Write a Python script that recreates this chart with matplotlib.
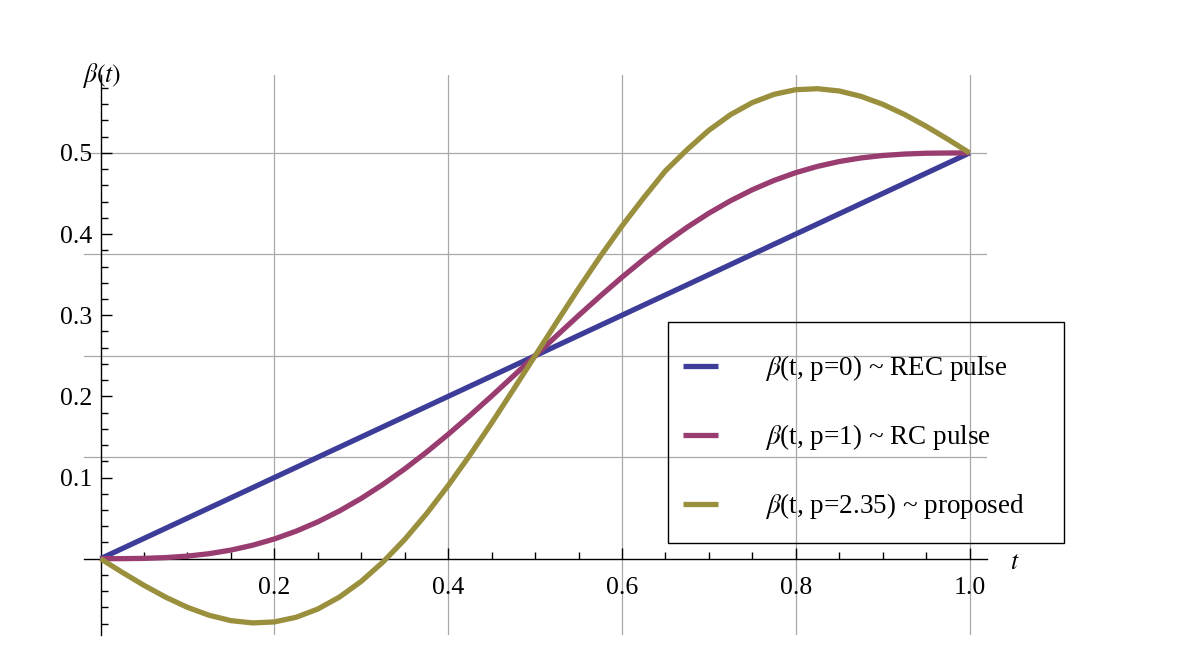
import numpy as np
import matplotlib
matplotlib.use("Agg")
import matplotlib.pyplot as plt
from matplotlib.patches import Rectangle

## data, t step 0.025
t = [0.000, 0.025, 0.050, 0.075, 0.100, 0.125, 0.150, 0.175, 0.200, 0.225,
     0.250, 0.275, 0.300, 0.325, 0.350, 0.375, 0.400, 0.425, 0.450, 0.475,
     0.500, 0.525, 0.550, 0.575, 0.600, 0.625, 0.650, 0.675, 0.700, 0.725,
     0.750, 0.775, 0.800, 0.825, 0.850, 0.875, 0.900, 0.925, 0.950, 0.975,
     1.000]

rec = [0.0000, 0.0125, 0.0250, 0.0375, 0.0500, 0.0625, 0.0750, 0.0875, 0.1000, 0.1125,
       0.1250, 0.1375, 0.1500, 0.1625, 0.1750, 0.1875, 0.2000, 0.2125, 0.2250, 0.2375,
       0.2500, 0.2625, 0.2750, 0.2875, 0.3000, 0.3125, 0.3250, 0.3375, 0.3500, 0.3625,
       0.3750, 0.3875, 0.4000, 0.4125, 0.4250, 0.4375, 0.4500, 0.4625, 0.4750, 0.4875,
       0.5000]

rc = [0.0000, 0.0001, 0.0004, 0.0014, 0.0032, 0.0062, 0.0106, 0.0166, 0.0243, 0.0339,
      0.0454, 0.0589, 0.0743, 0.0916, 0.1106, 0.1312, 0.1532, 0.1764, 0.2004, 0.2251,
      0.2500, 0.2749, 0.2996, 0.3236, 0.3468, 0.3688, 0.3894, 0.4084, 0.4257, 0.4411,
      0.4546, 0.4661, 0.4757, 0.4834, 0.4894, 0.4938, 0.4968, 0.4986, 0.4996, 0.4999,
      0.5000]

proposed = [0.0000, -0.0168, -0.0328, -0.0474, -0.0599, -0.0697, -0.0763, -0.0791, -0.0779, -0.0722,
            -0.0620, -0.0472, -0.0279, -0.0041, 0.0237, 0.0553, 0.0901, 0.1276, 0.1672, 0.2083,
            0.2500, 0.2917, 0.3328, 0.3724, 0.4099, 0.4447, 0.4779, 0.5041, 0.5279, 0.5472,
            0.5620, 0.5722, 0.5779, 0.5791, 0.5763, 0.5697, 0.5599, 0.5474, 0.5328, 0.5168,
            0.5000]

labels = [r"$\beta$(t, p=0) ~ REC pulse",
          r"$\beta$(t, p=1) ~ RC pulse",
          r"$\beta$(t, p=2.35) ~ proposed"]
colors = ["#3d3d99", "#993d71", "#998f3d"]

xticks = [0.2, 0.4, 0.6, 0.8, 1.0]
xticklabels = ["0.2", "0.4", "0.6", "0.8", "1.0"]
yticks = [0.1, 0.2, 0.3, 0.4, 0.5]
yticklabels = ["0.1", "0.2", "0.3", "0.4", "0.5"]
hgrid = [0.125, 0.25, 0.375, 0.5]

plt.rcParams['font.family'] = ['Liberation Serif', 'DejaVu Serif']
plt.rcParams['mathtext.fontset'] = 'stix'

fig = plt.figure(figsize=(12, 6.67), dpi=100)
ax = fig.add_axes([84/1200, 1-635/667, 903/1200, 560/667])
ax.set_xlim(-0.019, 1.02)
ax.set_ylim(-0.094, 0.596)

## grid
for x in xticks:
    ax.axvline(x, color="#a8a8a8", lw=0.9, zorder=1)
for y in hgrid:
    ax.axhline(y, color="#a8a8a8", lw=0.9, zorder=1)

## curves
for ys, c, lab in zip([rec, rc, proposed], colors, labels):
    ax.plot(t, ys, color=c, lw=3.8, label=lab, zorder=3,
            solid_capstyle='butt', solid_joinstyle='round')

## axes through origin
for s in ['top', 'right']:
    ax.spines[s].set_visible(False)
ax.spines['left'].set_position(('data', 0))
ax.spines['bottom'].set_position(('data', 0))
ax.spines['left'].set_bounds(-0.094, 0.596)
ax.spines['bottom'].set_bounds(-0.019, 1.02)
for s in ['left', 'bottom']:
    ax.spines[s].set_linewidth(1.0)
    ax.spines[s].set_zorder(2)

ax.set_xticks(xticks)
ax.set_xticklabels(xticklabels)
ax.set_xticks(np.arange(0.05, 1.0, 0.05), minor=True)
ax.set_yticks(yticks)
ax.set_yticklabels(yticklabels)
ax.set_yticks([v / 100 for v in range(-8, 60, 2)], minor=True)
ax.tick_params(axis='both', which='major', direction='in', length=8, width=1, labelsize=18.5)
ax.tick_params(axis='both', which='minor', direction='in', length=5, width=1)
ax.tick_params(axis='x', which='major', pad=13)
ax.tick_params(axis='y', which='major', pad=6)

## axis labels
fig.text(102/1200, 1-76/667, r"$\beta(t)$", fontsize=18.5, ha='center', va='center')
fig.text(1015/1200, 1-563/667, r"$t$", fontsize=18.5, ha='center', va='center')

## legend
leg = ax.legend(loc='center', bbox_to_anchor=(854/1200, 1-437/667), bbox_transform=fig.transFigure,
                frameon=False, fontsize=19.5, handlelength=1.3, handletextpad=1.74,
                labelspacing=1.44, borderpad=0)
fig.patches.append(Rectangle((668/1200, 1-543/667), 396/1200, 221/667, transform=fig.transFigure,
                             fill=False, edgecolor='black', lw=1.0, zorder=5))

plt.savefig("out.png", dpi=100)
